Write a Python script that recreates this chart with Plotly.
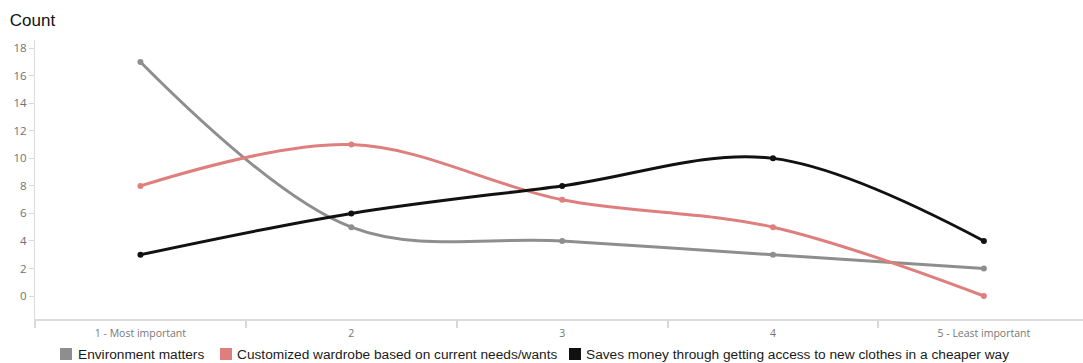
import plotly.graph_objects as go

# Ranking categories and counts per reason
categories = ["1 - Most important", "2", "3", "4", "5 - Least important"]
environment = [17, 5, 4, 3, 2]
customized = [8, 11, 7, 5, 0]
saves_money = [3, 6, 8, 10, 4]

series_names = [
    "Environment matters",
    "Customized wardrobe based on current needs/wants",
    "Saves money through getting access to new clothes in a cheaper way",
]
series_values = [environment, customized, saves_money]
series_colors = ["#8e8e8e", "#de7e7d", "#111111"]

W, H = 1083, 363
L, R, T, B = 35, 0, 40, 44
plot_w = W - L - R
plot_h = H - T - B


def px_x(px):
    return (px - L) / plot_w


def px_y(py):
    return (H - B - py) / plot_h


fig = go.Figure()
xs = list(range(len(categories)))
for name, vals, color in zip(series_names, series_values, series_colors):
    fig.add_trace(go.Scatter(
        x=xs, y=vals, mode="lines+markers", name=name,
        line=dict(color=color, width=3, shape="spline", smoothing=1),
        marker=dict(color=color, size=6),
        showlegend=False, hoverinfo="skip",
    ))

# legend row drawn below the axis: square swatch followed by its label
legend_swatch_left = [60, 220, 569]
legend_text_left = [76, 235, 584]
for name, color, sx, tx in zip(series_names, series_colors, legend_swatch_left, legend_text_left):
    fig.add_shape(type="rect", xref="paper", yref="paper",
                  x0=px_x(sx), x1=px_x(sx + 12), y0=px_y(360), y1=px_y(348),
                  fillcolor=color, line=dict(width=0))
    fig.add_annotation(text=name, xref="paper", yref="paper",
                       x=px_x(tx), y=px_y(354), xanchor="left", yanchor="middle",
                       showarrow=False,
                       font=dict(family="Liberation Sans", size=13.7, color="#1a1a1a"))

# category boundary marks on the x axis
boundaries = [i - 0.5 for i in range(len(categories) + 1)]

fig.update_layout(
    width=W, height=H,
    margin=dict(l=L, r=R, t=T, b=B),
    paper_bgcolor="white", plot_bgcolor="white",
    title=dict(text="Count", x=0.009, xref="container", xanchor="left",
               y=1 - 20 / H, yref="container", yanchor="middle",
               font=dict(family="Liberation Sans", size=17, color="#111111")),
    showlegend=False,
    xaxis=dict(
        range=[-0.5, 4.47], tickvals=xs, ticktext=categories,
        ticks="", ticklabelstandoff=3,
        minor=dict(tickvals=boundaries, ticks="outside", ticklen=7,
                   tickcolor="#d8d8d8", tickwidth=1.5, showgrid=False),
        showline=True, linecolor="#dcdcdc", linewidth=2,
        showgrid=False, zeroline=False,
        tickfont=dict(family="Open Sans", size=10.5, color="#777777"),
    ),
    yaxis=dict(
        range=[-1.67, 18.6], tickvals=list(range(0, 19, 2)),
        ticks="outside", ticklen=5, tickcolor="#d8d8d8",
        showline=True, linecolor="#dcdcdc", linewidth=1,
        showgrid=False, zeroline=False,
        tickfont=dict(family="Open Sans", size=11.5, color="#707070"),
    ),
)

fig.write_html("out.html")
